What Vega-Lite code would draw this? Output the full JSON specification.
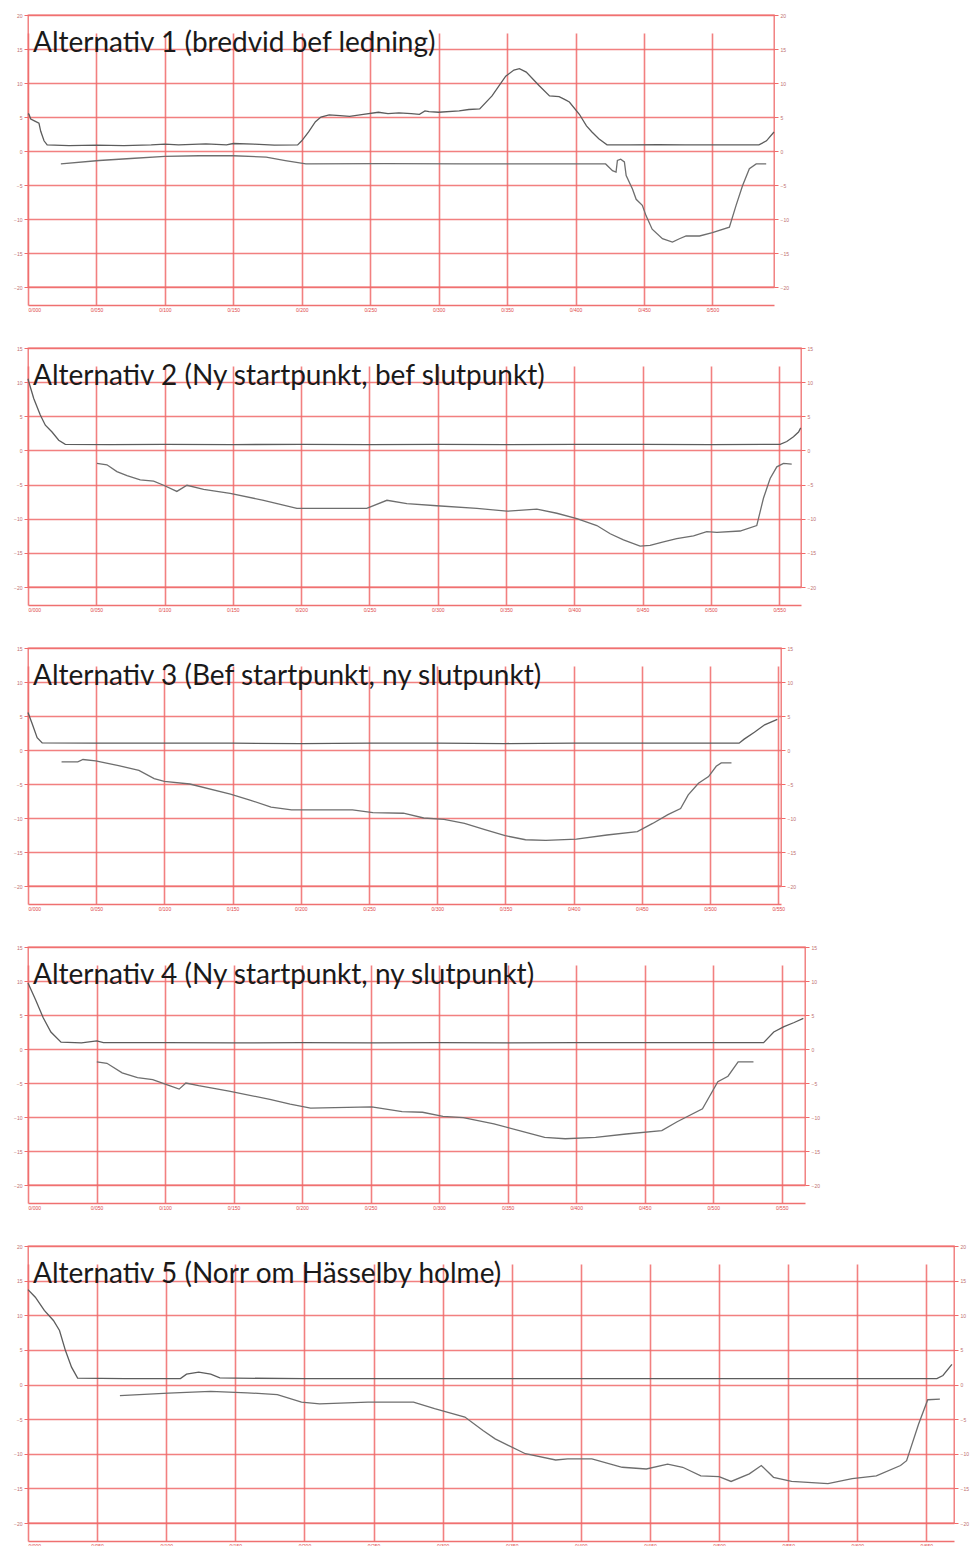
{
"$schema": "https://vega.github.io/schema/vega-lite/v6.json",
"padding": {"left": 12, "top": 12, "right": 5, "bottom": 3},
"background": "white",
"spacing": 61,
"bounds": "flush",
"datasets": {
"a1": [
{"x":0,"y":5.5,"s":"mark"},{"x":0.7,"y":5.4,"s":"mark"},{"x":2,"y":4.7,"s":"mark"},{"x":5,"y":4.4,"s":"mark"},{"x":8,"y":4.1,"s":"mark"},{"x":9.3,"y":2.9,"s":"mark"},{"x":11.7,"y":1.5,"s":"mark"},{"x":14,"y":0.9,"s":"mark"},{"x":30,"y":0.8,"s":"mark"},{"x":50,"y":0.85,"s":"mark"},{"x":70,"y":0.8,"s":"mark"},{"x":90,"y":0.9,"s":"mark"},{"x":100,"y":1.0,"s":"mark"},{"x":110,"y":0.9,"s":"mark"},{"x":130,"y":1.05,"s":"mark"},{"x":145,"y":0.9,"s":"mark"},{"x":150,"y":1.1,"s":"mark"},{"x":165,"y":1.0,"s":"mark"},{"x":180,"y":0.85,"s":"mark"},{"x":197,"y":0.9,"s":"mark"},{"x":200,"y":1.5,"s":"mark"},{"x":205,"y":2.8,"s":"mark"},{"x":210,"y":4.3,"s":"mark"},{"x":214,"y":5.0,"s":"mark"},{"x":220,"y":5.3,"s":"mark"},{"x":228,"y":5.2,"s":"mark"},{"x":235,"y":5.1,"s":"mark"},{"x":245,"y":5.4,"s":"mark"},{"x":256,"y":5.7,"s":"mark"},{"x":263,"y":5.5,"s":"mark"},{"x":271,"y":5.6,"s":"mark"},{"x":280,"y":5.5,"s":"mark"},{"x":286,"y":5.4,"s":"mark"},{"x":290,"y":5.9,"s":"mark"},{"x":293,"y":5.8,"s":"mark"},{"x":300,"y":5.7,"s":"mark"},{"x":315,"y":5.9,"s":"mark"},{"x":322,"y":6.1,"s":"mark"},{"x":330,"y":6.2,"s":"mark"},{"x":339,"y":8.1,"s":"mark"},{"x":349,"y":11.0,"s":"mark"},{"x":355,"y":11.9,"s":"mark"},{"x":359,"y":12.1,"s":"mark"},{"x":364,"y":11.6,"s":"mark"},{"x":373.5,"y":9.6,"s":"mark"},{"x":381,"y":8.1,"s":"mark"},{"x":388,"y":8.0,"s":"mark"},{"x":392,"y":7.6,"s":"mark"},{"x":395.5,"y":7.2,"s":"mark"},{"x":402.8,"y":5.4,"s":"mark"},{"x":408,"y":3.7,"s":"mark"},{"x":412,"y":2.8,"s":"mark"},{"x":417,"y":1.8,"s":"mark"},{"x":423,"y":0.9,"s":"mark"},{"x":440,"y":0.9,"s":"mark"},{"x":460,"y":0.95,"s":"mark"},{"x":480,"y":0.9,"s":"mark"},{"x":500,"y":0.9,"s":"mark"},{"x":520,"y":0.9,"s":"mark"},{"x":534,"y":0.9,"s":"mark"},{"x":539.5,"y":1.5,"s":"mark"},{"x":545,"y":2.8,"s":"mark"},
{"x":24,"y":-1.9,"s":"led"},{"x":52,"y":-1.4,"s":"led"},{"x":75,"y":-1.1,"s":"led"},{"x":100,"y":-0.8,"s":"led"},{"x":125,"y":-0.7,"s":"led"},{"x":150,"y":-0.7,"s":"led"},{"x":174,"y":-0.9,"s":"led"},{"x":188,"y":-1.4,"s":"led"},{"x":203,"y":-1.9,"s":"led"},{"x":260,"y":-1.85,"s":"led"},{"x":320,"y":-1.9,"s":"led"},{"x":380,"y":-1.9,"s":"led"},{"x":422,"y":-1.9,"s":"led"},{"x":427,"y":-2.9,"s":"led"},{"x":429.6,"y":-3.1,"s":"led"},{"x":430.6,"y":-1.4,"s":"led"},{"x":433,"y":-1.2,"s":"led"},{"x":435.7,"y":-1.6,"s":"led"},{"x":437,"y":-3.6,"s":"led"},{"x":441.6,"y":-5.6,"s":"led"},{"x":444.3,"y":-7.1,"s":"led"},{"x":448.8,"y":-8.0,"s":"led"},{"x":451.5,"y":-9.5,"s":"led"},{"x":456,"y":-11.5,"s":"led"},{"x":463.5,"y":-12.9,"s":"led"},{"x":470.8,"y":-13.4,"s":"led"},{"x":475.9,"y":-12.9,"s":"led"},{"x":480.8,"y":-12.5,"s":"led"},{"x":490.6,"y":-12.5,"s":"led"},{"x":500,"y":-12.0,"s":"led"},{"x":512.4,"y":-11.2,"s":"led"},{"x":517.3,"y":-8.0,"s":"led"},{"x":522,"y":-5.1,"s":"led"},{"x":527,"y":-2.6,"s":"led"},{"x":532,"y":-1.9,"s":"led"},{"x":539.3,"y":-1.9,"s":"led"}
],
"a2": [
{"x":0,"y":10.5,"s":"mark"},{"x":0.5,"y":10.1,"s":"mark"},{"x":4.2,"y":7.6,"s":"mark"},{"x":9,"y":5.2,"s":"mark"},{"x":12.7,"y":3.7,"s":"mark"},{"x":17.6,"y":2.7,"s":"mark"},{"x":22.5,"y":1.5,"s":"mark"},{"x":27.3,"y":0.9,"s":"mark"},{"x":60,"y":0.85,"s":"mark"},{"x":100,"y":0.9,"s":"mark"},{"x":150,"y":0.85,"s":"mark"},{"x":200,"y":0.9,"s":"mark"},{"x":250,"y":0.85,"s":"mark"},{"x":300,"y":0.9,"s":"mark"},{"x":350,"y":0.85,"s":"mark"},{"x":400,"y":0.9,"s":"mark"},{"x":450,"y":0.9,"s":"mark"},{"x":500,"y":0.85,"s":"mark"},{"x":550.7,"y":0.9,"s":"mark"},{"x":555.6,"y":1.3,"s":"mark"},{"x":560.5,"y":2.0,"s":"mark"},{"x":564.2,"y":2.7,"s":"mark"},{"x":565.8,"y":3.3,"s":"mark"},
{"x":50.5,"y":-1.9,"s":"led"},{"x":57.8,"y":-2.1,"s":"led"},{"x":65.1,"y":-3.1,"s":"led"},{"x":72.5,"y":-3.7,"s":"led"},{"x":82.2,"y":-4.3,"s":"led"},{"x":92,"y":-4.5,"s":"led"},{"x":99.3,"y":-5.1,"s":"led"},{"x":109,"y":-6.0,"s":"led"},{"x":116.4,"y":-5.1,"s":"led"},{"x":128.6,"y":-5.7,"s":"led"},{"x":148,"y":-6.3,"s":"led"},{"x":172.5,"y":-7.3,"s":"led"},{"x":196.9,"y":-8.5,"s":"led"},{"x":220,"y":-8.5,"s":"led"},{"x":248,"y":-8.5,"s":"led"},{"x":262.8,"y":-7.3,"s":"led"},{"x":277.4,"y":-7.8,"s":"led"},{"x":299.4,"y":-8.1,"s":"led"},{"x":328.7,"y":-8.5,"s":"led"},{"x":350.6,"y":-8.9,"s":"led"},{"x":372.6,"y":-8.6,"s":"led"},{"x":387.2,"y":-9.2,"s":"led"},{"x":401.9,"y":-10.0,"s":"led"},{"x":416.5,"y":-11.0,"s":"led"},{"x":426.3,"y":-12.2,"s":"led"},{"x":436,"y":-13.1,"s":"led"},{"x":448.2,"y":-14.0,"s":"led"},{"x":455.5,"y":-13.9,"s":"led"},{"x":465.3,"y":-13.4,"s":"led"},{"x":475,"y":-12.9,"s":"led"},{"x":487.3,"y":-12.5,"s":"led"},{"x":497,"y":-11.9,"s":"led"},{"x":504.4,"y":-12.0,"s":"led"},{"x":521.4,"y":-11.8,"s":"led"},{"x":533.6,"y":-11.0,"s":"led"},{"x":538.5,"y":-7.0,"s":"led"},{"x":543.4,"y":-4.1,"s":"led"},{"x":548.3,"y":-2.4,"s":"led"},{"x":553.2,"y":-1.9,"s":"led"},{"x":559.2,"y":-2.0,"s":"led"}
],
"a3": [
{"x":0,"y":5.5,"s":"mark"},{"x":3,"y":3.9,"s":"mark"},{"x":6.7,"y":1.8,"s":"mark"},{"x":10.4,"y":1.05,"s":"mark"},{"x":50,"y":1.0,"s":"mark"},{"x":100,"y":1.0,"s":"mark"},{"x":150,"y":1.0,"s":"mark"},{"x":200,"y":0.95,"s":"mark"},{"x":250,"y":1.0,"s":"mark"},{"x":300,"y":1.0,"s":"mark"},{"x":350,"y":0.95,"s":"mark"},{"x":400,"y":1.0,"s":"mark"},{"x":450,"y":1.0,"s":"mark"},{"x":500,"y":1.0,"s":"mark"},{"x":521.3,"y":1.0,"s":"mark"},{"x":525,"y":1.6,"s":"mark"},{"x":532.5,"y":2.6,"s":"mark"},{"x":540,"y":3.7,"s":"mark"},{"x":549.3,"y":4.5,"s":"mark"},
{"x":24.6,"y":-1.74,"s":"led"},{"x":36.5,"y":-1.74,"s":"led"},{"x":40.3,"y":-1.4,"s":"led"},{"x":49.6,"y":-1.6,"s":"led"},{"x":66.4,"y":-2.3,"s":"led"},{"x":81.3,"y":-3.0,"s":"led"},{"x":92.5,"y":-4.2,"s":"led"},{"x":99.9,"y":-4.6,"s":"led"},{"x":118.6,"y":-5.0,"s":"led"},{"x":148.4,"y":-6.5,"s":"led"},{"x":163.3,"y":-7.4,"s":"led"},{"x":178.2,"y":-8.4,"s":"led"},{"x":193.2,"y":-8.8,"s":"led"},{"x":215.5,"y":-8.8,"s":"led"},{"x":237.9,"y":-8.8,"s":"led"},{"x":252.8,"y":-9.2,"s":"led"},{"x":275.2,"y":-9.3,"s":"led"},{"x":290.1,"y":-10.0,"s":"led"},{"x":305,"y":-10.2,"s":"led"},{"x":320,"y":-10.8,"s":"led"},{"x":334.9,"y":-11.7,"s":"led"},{"x":349.8,"y":-12.6,"s":"led"},{"x":364.7,"y":-13.2,"s":"led"},{"x":379.6,"y":-13.3,"s":"led"},{"x":402,"y":-13.1,"s":"led"},{"x":424.4,"y":-12.5,"s":"led"},{"x":446.7,"y":-12.0,"s":"led"},{"x":457.9,"y":-10.8,"s":"led"},{"x":469.1,"y":-9.5,"s":"led"},{"x":478.4,"y":-8.6,"s":"led"},{"x":484,"y":-6.6,"s":"led"},{"x":491.5,"y":-4.9,"s":"led"},{"x":498.9,"y":-3.9,"s":"led"},{"x":504.5,"y":-2.4,"s":"led"},{"x":508.2,"y":-1.9,"s":"led"},{"x":515.7,"y":-1.9,"s":"led"}
],
"a4": [
{"x":0,"y":9.7,"s":"mark"},{"x":5.6,"y":7.2,"s":"mark"},{"x":11.1,"y":4.6,"s":"mark"},{"x":16.7,"y":2.5,"s":"mark"},{"x":24.1,"y":1.0,"s":"mark"},{"x":39,"y":0.9,"s":"mark"},{"x":50.2,"y":1.2,"s":"mark"},{"x":55,"y":0.95,"s":"mark"},{"x":100,"y":0.93,"s":"mark"},{"x":150,"y":0.9,"s":"mark"},{"x":200,"y":0.93,"s":"mark"},{"x":250,"y":0.9,"s":"mark"},{"x":300,"y":0.93,"s":"mark"},{"x":350,"y":0.9,"s":"mark"},{"x":400,"y":0.93,"s":"mark"},{"x":450,"y":0.93,"s":"mark"},{"x":500,"y":0.93,"s":"mark"},{"x":536.8,"y":0.93,"s":"mark"},{"x":544.2,"y":2.5,"s":"mark"},{"x":551.7,"y":3.3,"s":"mark"},{"x":559.1,"y":3.9,"s":"mark"},{"x":565.8,"y":4.5,"s":"mark"},
{"x":50.2,"y":-1.9,"s":"led"},{"x":57.6,"y":-2.1,"s":"led"},{"x":68.7,"y":-3.5,"s":"led"},{"x":79.9,"y":-4.2,"s":"led"},{"x":91,"y":-4.5,"s":"led"},{"x":102.2,"y":-5.3,"s":"led"},{"x":110.3,"y":-5.9,"s":"led"},{"x":115.2,"y":-5.0,"s":"led"},{"x":124.5,"y":-5.4,"s":"led"},{"x":146.7,"y":-6.2,"s":"led"},{"x":176.5,"y":-7.4,"s":"led"},{"x":191.3,"y":-8.1,"s":"led"},{"x":206.2,"y":-8.7,"s":"led"},{"x":250.8,"y":-8.5,"s":"led"},{"x":273,"y":-9.2,"s":"led"},{"x":287.9,"y":-9.3,"s":"led"},{"x":302.8,"y":-9.9,"s":"led"},{"x":317.6,"y":-10.1,"s":"led"},{"x":340,"y":-11.0,"s":"led"},{"x":358.5,"y":-12.0,"s":"led"},{"x":377,"y":-13.0,"s":"led"},{"x":392,"y":-13.2,"s":"led"},{"x":414.2,"y":-13.0,"s":"led"},{"x":436.5,"y":-12.5,"s":"led"},{"x":462.5,"y":-12.0,"s":"led"},{"x":473.7,"y":-10.7,"s":"led"},{"x":492.2,"y":-8.8,"s":"led"},{"x":503.4,"y":-4.8,"s":"led"},{"x":510.8,"y":-4.0,"s":"led"},{"x":518.2,"y":-1.9,"s":"led"},{"x":529.4,"y":-1.9,"s":"led"}
],
"a5": [
{"x":0,"y":13.7,"s":"mark"},{"x":5.3,"y":12.6,"s":"mark"},{"x":11.8,"y":10.7,"s":"mark"},{"x":18.4,"y":9.25,"s":"mark"},{"x":22.8,"y":7.8,"s":"mark"},{"x":27.1,"y":4.9,"s":"mark"},{"x":31.5,"y":2.5,"s":"mark"},{"x":35.9,"y":0.92,"s":"mark"},{"x":70,"y":0.85,"s":"mark"},{"x":110.3,"y":0.85,"s":"mark"},{"x":114.7,"y":1.5,"s":"mark"},{"x":123.5,"y":1.8,"s":"mark"},{"x":132.2,"y":1.5,"s":"mark"},{"x":138.8,"y":0.96,"s":"mark"},{"x":149.7,"y":0.92,"s":"mark"},{"x":200,"y":0.85,"s":"mark"},{"x":300,"y":0.85,"s":"mark"},{"x":400,"y":0.85,"s":"mark"},{"x":500,"y":0.85,"s":"mark"},{"x":600,"y":0.85,"s":"mark"},{"x":657.6,"y":0.85,"s":"mark"},{"x":662,"y":1.3,"s":"mark"},{"x":668.5,"y":2.9,"s":"mark"},
{"x":66.5,"y":-1.6,"s":"led"},{"x":101.6,"y":-1.25,"s":"led"},{"x":132.2,"y":-1.0,"s":"led"},{"x":158.5,"y":-1.2,"s":"led"},{"x":180.4,"y":-1.45,"s":"led"},{"x":197.9,"y":-2.55,"s":"led"},{"x":211,"y":-2.8,"s":"led"},{"x":246,"y":-2.55,"s":"led"},{"x":278.9,"y":-2.55,"s":"led"},{"x":294.2,"y":-3.5,"s":"led"},{"x":316.1,"y":-4.7,"s":"led"},{"x":329.2,"y":-6.65,"s":"led"},{"x":338,"y":-7.85,"s":"led"},{"x":359.9,"y":-10.0,"s":"led"},{"x":381.8,"y":-10.9,"s":"led"},{"x":390.5,"y":-10.75,"s":"led"},{"x":408,"y":-10.75,"s":"led"},{"x":429.9,"y":-11.95,"s":"led"},{"x":447.4,"y":-12.2,"s":"led"},{"x":462.8,"y":-11.5,"s":"led"},{"x":473.7,"y":-11.95,"s":"led"},{"x":486.8,"y":-13.2,"s":"led"},{"x":500,"y":-13.3,"s":"led"},{"x":508.7,"y":-14.0,"s":"led"},{"x":521.9,"y":-12.9,"s":"led"},{"x":530.6,"y":-11.7,"s":"led"},{"x":539.4,"y":-13.4,"s":"led"},{"x":552.5,"y":-14.0,"s":"led"},{"x":578.8,"y":-14.3,"s":"led"},{"x":596.3,"y":-13.6,"s":"led"},{"x":613.8,"y":-13.2,"s":"led"},{"x":631.3,"y":-11.7,"s":"led"},{"x":635.7,"y":-11.0,"s":"led"},{"x":644.4,"y":-5.7,"s":"led"},{"x":651,"y":-2.2,"s":"led"},{"x":659.8,"y":-2.1,"s":"led"}
]
},
"vconcat": [
{
"width": 746, "height": 272,
"title": {"text": "Alternativ 1 (bredvid bef ledning)"},
"data": {"name": "a1"},
"layer": [
{"transform": [{"filter": "datum.s == 'mark'"}], "mark": {"type": "line", "color": "#5c5c5c"},
 "encoding": {
  "x": {"field": "x", "type": "quantitative", "scale": {"domain": [0, 545], "nice": false, "zero": false}, "axis": {"values": [0,50,100,150,200,250,300,350,400,450,500], "labelExpr": "replace(format(datum.value/1000,'.3f'),'.','/')"}},
  "y": {"field": "y", "type": "quantitative", "scale": {"domain": [-20, 20], "nice": false}, "axis": {"values": [-20,-15,-10,-5,0,5,10,15,20]}}}},
{"transform": [{"filter": "datum.s == 'led'"}], "mark": {"type": "line", "color": "#6e6e6e"},
 "encoding": {
  "x": {"field": "x", "type": "quantitative"},
  "y": {"field": "y", "type": "quantitative", "scale": {"domain": [-20, 20], "nice": false}, "axis": {"orient": "right", "grid": false, "values": [-20,-15,-10,-5,0,5,10,15,20]}}}}
],
"resolve": {"scale": {"y": "independent"}}
},
{
"width": 773, "height": 239,
"title": {"text": "Alternativ 2 (Ny startpunkt, bef slutpunkt)"},
"data": {"name": "a2"},
"layer": [
{"transform": [{"filter": "datum.s == 'mark'"}], "mark": {"type": "line", "color": "#5c5c5c"},
 "encoding": {
  "x": {"field": "x", "type": "quantitative", "scale": {"domain": [0, 566], "nice": false, "zero": false}, "axis": {"values": [0,50,100,150,200,250,300,350,400,450,500,550], "labelExpr": "replace(format(datum.value/1000,'.3f'),'.','/')"}},
  "y": {"field": "y", "type": "quantitative", "scale": {"domain": [-20, 15], "nice": false}, "axis": {"values": [-20,-15,-10,-5,0,5,10,15]}}}},
{"transform": [{"filter": "datum.s == 'led'"}], "mark": {"type": "line", "color": "#6e6e6e"},
 "encoding": {
  "x": {"field": "x", "type": "quantitative"},
  "y": {"field": "y", "type": "quantitative", "scale": {"domain": [-20, 15], "nice": false}, "axis": {"orient": "right", "grid": false, "values": [-20,-15,-10,-5,0,5,10,15]}}}}
],
"resolve": {"scale": {"y": "independent"}}
},
{
"width": 753, "height": 238,
"title": {"text": "Alternativ 3 (Bef startpunkt, ny slutpunkt)"},
"data": {"name": "a3"},
"layer": [
{"transform": [{"filter": "datum.s == 'mark'"}], "mark": {"type": "line", "color": "#5c5c5c"},
 "encoding": {
  "x": {"field": "x", "type": "quantitative", "scale": {"domain": [0, 552], "nice": false, "zero": false}, "axis": {"values": [0,50,100,150,200,250,300,350,400,450,500,550], "labelExpr": "replace(format(datum.value/1000,'.3f'),'.','/')"}},
  "y": {"field": "y", "type": "quantitative", "scale": {"domain": [-20, 15], "nice": false}, "axis": {"values": [-20,-15,-10,-5,0,5,10,15]}}}},
{"transform": [{"filter": "datum.s == 'led'"}], "mark": {"type": "line", "color": "#6e6e6e"},
 "encoding": {
  "x": {"field": "x", "type": "quantitative"},
  "y": {"field": "y", "type": "quantitative", "scale": {"domain": [-20, 15], "nice": false}, "axis": {"orient": "right", "grid": false, "values": [-20,-15,-10,-5,0,5,10,15]}}}}
],
"resolve": {"scale": {"y": "independent"}}
},
{
"width": 777, "height": 238,
"title": {"text": "Alternativ 4 (Ny startpunkt, ny slutpunkt)"},
"data": {"name": "a4"},
"layer": [
{"transform": [{"filter": "datum.s == 'mark'"}], "mark": {"type": "line", "color": "#5c5c5c"},
 "encoding": {
  "x": {"field": "x", "type": "quantitative", "scale": {"domain": [0, 567], "nice": false, "zero": false}, "axis": {"values": [0,50,100,150,200,250,300,350,400,450,500,550], "labelExpr": "replace(format(datum.value/1000,'.3f'),'.','/')"}},
  "y": {"field": "y", "type": "quantitative", "scale": {"domain": [-20, 15], "nice": false}, "axis": {"values": [-20,-15,-10,-5,0,5,10,15]}}}},
{"transform": [{"filter": "datum.s == 'led'"}], "mark": {"type": "line", "color": "#6e6e6e"},
 "encoding": {
  "x": {"field": "x", "type": "quantitative"},
  "y": {"field": "y", "type": "quantitative", "scale": {"domain": [-20, 15], "nice": false}, "axis": {"orient": "right", "grid": false, "values": [-20,-15,-10,-5,0,5,10,15]}}}}
],
"resolve": {"scale": {"y": "independent"}}
},
{
"width": 926, "height": 277,
"title": {"text": "Alternativ 5 (Norr om Hässelby holme)"},
"data": {"name": "a5"},
"layer": [
{"transform": [{"filter": "datum.s == 'mark'"}], "mark": {"type": "line", "color": "#5c5c5c"},
 "encoding": {
  "x": {"field": "x", "type": "quantitative", "scale": {"domain": [0, 670], "nice": false, "zero": false}, "axis": {"values": [0,50,100,150,200,250,300,350,400,450,500,550,600,650], "labelExpr": "replace(format(datum.value/1000,'.3f'),'.','/')"}},
  "y": {"field": "y", "type": "quantitative", "scale": {"domain": [-20, 20], "nice": false}, "axis": {"values": [-20,-15,-10,-5,0,5,10,15,20]}}}},
{"transform": [{"filter": "datum.s == 'led'"}], "mark": {"type": "line", "color": "#6e6e6e"},
 "encoding": {
  "x": {"field": "x", "type": "quantitative"},
  "y": {"field": "y", "type": "quantitative", "scale": {"domain": [-20, 20], "nice": false}, "axis": {"orient": "right", "grid": false, "values": [-20,-15,-10,-5,0,5,10,15,20]}}}}
],
"resolve": {"scale": {"y": "independent"}}
}
],
"config": {
 "view": {"stroke": "#ef6f6f", "strokeWidth": 1.3},
 "axis": {"gridColor": "#f06a6a", "gridWidth": 1.6, "gridOpacity": 0.85, "domain": false, "tickColor": "#f06a6a", "labelFont": "Liberation Sans", "labelFontSize": 5, "labelColor": "#c07070", "title": null},
 "axisX": {"domain": true, "domainColor": "#ef7070", "domainWidth": 1.3, "ticks": false, "labelPadding": 2, "offset": 18, "labelColor": "#e04848", "grid": true},
 "axisY": {"tickSize": 4, "labelPadding": 2},
 "line": {"strokeWidth": 1.3},
 "title": {"anchor": "start", "frame": "group", "offset": -45, "dx": 5, "font": "Lato", "fontSize": 28, "fontWeight": "normal", "color": "#1a1a1a"}
}
}
